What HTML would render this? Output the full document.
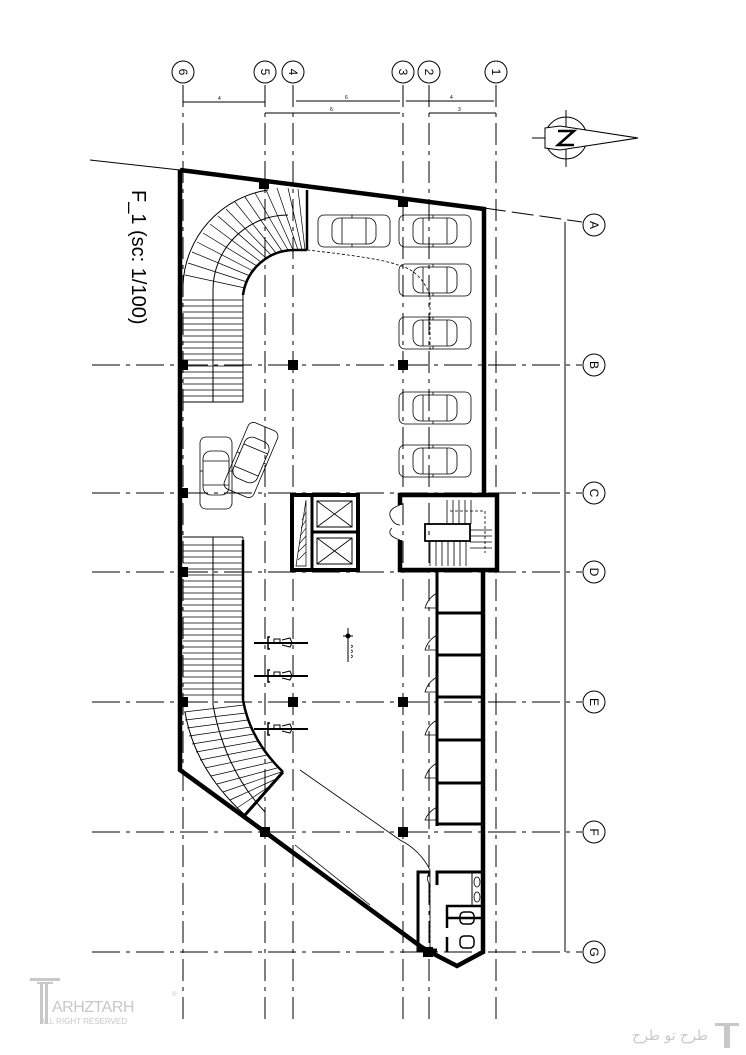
<!DOCTYPE html>
<html><head><meta charset="utf-8"><style>
html,body{margin:0;padding:0;background:#fff;}
svg{display:block;}
</style></head><body>
<svg width="746" height="1055" viewBox="0 0 746 1055" xmlns="http://www.w3.org/2000/svg" font-family="Liberation Sans, sans-serif">
<defs>
<g id="car" fill="none" stroke="#000" stroke-width="0.8">
<rect x="-36" y="-16" width="72" height="32" rx="6"/>
<rect x="-22" y="-13" width="44" height="26" rx="8"/>
<line x1="-12" y1="-13" x2="-12" y2="13"/>
<line x1="12" y1="-13" x2="12" y2="13"/>
<line x1="-2" y1="-16" x2="-2" y2="-13"/><line x1="-2" y1="16" x2="-2" y2="13"/>
</g>
<g id="bike" stroke="#000" fill="none">
<line x1="0" y1="0" x2="54" y2="0" stroke-width="2"/>
<path d="M16 -6 L14 -6 L14 6 L16 6" stroke-width="1.5"/>
<rect x="20" y="-4" width="6" height="4" stroke-width="1"/>
<path d="M28 -3 L36 -5 L38 0 L36 4 L28 2" stroke-width="1"/>
</g>
</defs>

<!-- grid lines vertical -->
<g stroke="#000" stroke-width="1" stroke-dasharray="22,6,4,6">
<line x1="183" y1="85" x2="183" y2="1025"/>
<line x1="265" y1="85" x2="265" y2="1025"/>
<line x1="293" y1="85" x2="293" y2="1025"/>
<line x1="403" y1="85" x2="403" y2="1025"/>
<line x1="429" y1="85" x2="429" y2="1025"/>
<line x1="496" y1="85" x2="496" y2="1025"/>
</g>
<!-- grid lines horizontal -->
<g stroke="#000" stroke-width="1" stroke-dasharray="28,6,4,6">
<line x1="92" y1="365" x2="582" y2="365"/>
<line x1="92" y1="493" x2="582" y2="493"/>
<line x1="92" y1="572" x2="582" y2="572"/>
<line x1="92" y1="702" x2="582" y2="702"/>
<line x1="92" y1="832" x2="582" y2="832"/>
<line x1="92" y1="952" x2="582" y2="952"/>
</g>
<line x1="90" y1="160" x2="180" y2="170" stroke="#000" stroke-width="1"/>
<line x1="484" y1="208" x2="582" y2="222" stroke="#000" stroke-width="1" stroke-dasharray="22,6"/>
<line x1="565" y1="222" x2="565" y2="952" stroke="#000" stroke-width="1"/>

<!-- grid bubbles -->
<g fill="#fff" stroke="#000" stroke-width="1">
<circle cx="183" cy="72" r="11"/><circle cx="265" cy="72" r="11"/><circle cx="293" cy="72" r="11"/>
<circle cx="403" cy="72" r="11"/><circle cx="429" cy="72" r="11"/><circle cx="496" cy="72" r="11"/>
<circle cx="594" cy="225" r="11"/><circle cx="594" cy="365" r="11"/><circle cx="594" cy="493" r="11"/>
<circle cx="594" cy="572" r="11"/><circle cx="594" cy="702" r="11"/><circle cx="594" cy="832" r="11"/>
<circle cx="594" cy="952" r="11"/>
</g>
<g font-size="12" text-anchor="middle" fill="#000">
<text transform="translate(183,72) rotate(90)" y="4">6</text>
<text transform="translate(265,72) rotate(90)" y="4">5</text>
<text transform="translate(293,72) rotate(90)" y="4">4</text>
<text transform="translate(403,72) rotate(90)" y="4">3</text>
<text transform="translate(429,72) rotate(90)" y="4">2</text>
<text transform="translate(496,72) rotate(90)" y="4">1</text>
<text transform="translate(594,225) rotate(90)" y="4">A</text>
<text transform="translate(594,365) rotate(90)" y="4">B</text>
<text transform="translate(594,493) rotate(90)" y="4">C</text>
<text transform="translate(594,572) rotate(90)" y="4">D</text>
<text transform="translate(594,702) rotate(90)" y="4">E</text>
<text transform="translate(594,832) rotate(90)" y="4">F</text>
<text transform="translate(594,952) rotate(90)" y="4">G</text>
</g>
<!-- dimension lines -->
<g stroke="#000" stroke-width="1">
<line x1="183" y1="102" x2="265" y2="102"/>
<line x1="296" y1="101" x2="400" y2="101"/>
<line x1="406" y1="101" x2="494" y2="101"/>
<line x1="265" y1="113" x2="400" y2="113"/>
<line x1="429" y1="113" x2="496" y2="113"/>
</g>
<g font-size="5" fill="#000"><text x="218" y="100">4</text><text x="345" y="99">6</text><text x="450" y="99">4</text><text x="330" y="111">6</text><text x="458" y="111">3</text></g>

<!-- north arrow -->
<g stroke="#000" stroke-width="1" fill="none">
<circle cx="566" cy="138" r="21"/>
<line x1="566" y1="110" x2="566" y2="167"/>
<line x1="532" y1="138" x2="545" y2="138"/>
<path d="M545 128 L560 126 L638 138 L560 150 L545 148 Z" fill="#fff"/>
<path d="M558 131 L574 131 L558 145 L574 145" stroke-width="2.5"/>
</g>

<!-- title -->
<text transform="translate(132,190) rotate(90)" font-size="20" fill="#000">F_1 (sc: 1/100)</text>

<!-- building outline -->
<g fill="none" stroke="#000" stroke-width="4.5" stroke-linejoin="miter">
<path d="M180 170 L484 209 L484 493"/>
<path d="M180 170 L180 770 L265 832 L420 946 L430 952 L457 966 L483 952 L483 572"/>
</g>
<!-- columns -->
<g fill="#000">
<rect x="259" y="180" width="10" height="9"/><rect x="398" y="198" width="10" height="9"/>
<rect x="178" y="360" width="10" height="10"/><rect x="288" y="360" width="10" height="10"/><rect x="398" y="360" width="10" height="10"/>
<rect x="178" y="488" width="10" height="10"/><rect x="178" y="567" width="10" height="10"/>
<rect x="178" y="697" width="10" height="10"/><rect x="288" y="697" width="10" height="10"/><rect x="398" y="697" width="10" height="10"/>
<rect x="398" y="827" width="10" height="10"/><rect x="260" y="827" width="10" height="10"/>
<rect x="423" y="947" width="10" height="10"/>
</g>

<!-- top ramp -->
<g fill="none" stroke="#000" stroke-width="1">
<path d="M183 285 A100 100 0 0 1 268 190"/>
<path d="M213 290 A75 75 0 0 1 288 215"/>
<path d="M243 295 A52 52 0 0 1 295 250"/>
<line x1="243" y1="295" x2="243" y2="402"/>
<line x1="213" y1="290" x2="213" y2="402"/>
<line x1="183" y1="402" x2="243" y2="402"/>
</g>
<line x1="307" y1="190" x2="307" y2="250" stroke="#000" stroke-width="2.5"/>
<path d="M243 295 A52 52 0 0 1 295 250 L307 250" fill="none" stroke="#000" stroke-width="2.5"/>
<g stroke="#000" stroke-width="0.7">
<line x1="183" y1="300" x2="243" y2="300"/><line x1="183" y1="306" x2="243" y2="306"/><line x1="183" y1="312" x2="243" y2="312"/><line x1="183" y1="318" x2="243" y2="318"/><line x1="183" y1="324" x2="243" y2="324"/><line x1="183" y1="330" x2="243" y2="330"/><line x1="183" y1="336" x2="243" y2="336"/><line x1="183" y1="342" x2="243" y2="342"/><line x1="183" y1="348" x2="243" y2="348"/><line x1="183" y1="354" x2="243" y2="354"/><line x1="183" y1="360" x2="243" y2="360"/><line x1="183" y1="366" x2="243" y2="366"/><line x1="183" y1="372" x2="243" y2="372"/><line x1="183" y1="378" x2="243" y2="378"/><line x1="183" y1="384" x2="243" y2="384"/><line x1="183" y1="390" x2="243" y2="390"/><line x1="183" y1="396" x2="243" y2="396"/>
<line x1="185" y1="275" x2="245" y2="288"/><line x1="188" y1="263" x2="247" y2="282"/><line x1="192" y1="252" x2="250" y2="276"/><line x1="197" y1="242" x2="253" y2="271"/><line x1="203" y1="233" x2="257" y2="266"/><line x1="210" y1="224" x2="261" y2="262"/><line x1="218" y1="216" x2="266" y2="258"/><line x1="226" y1="209" x2="271" y2="255"/><line x1="235" y1="202" x2="276" y2="253"/><line x1="245" y1="197" x2="282" y2="251"/><line x1="255" y1="193" x2="288" y2="250"/><line x1="266" y1="190" x2="293" y2="250"/><line x1="277" y1="188" x2="298" y2="250"/><line x1="288" y1="188" x2="302" y2="250"/><line x1="298" y1="189" x2="305" y2="250"/>
</g>
<path d="M307 250 Q380 258 398 265 Q420 270 430 295 L430 350" fill="none" stroke="#000" stroke-width="0.8" stroke-dasharray="3,2"/>

<!-- bottom ramp -->
<g fill="none" stroke="#000" stroke-width="1">
<line x1="183" y1="537" x2="243" y2="537"/>
<line x1="243" y1="537" x2="243" y2="700"/>
<line x1="213" y1="537" x2="213" y2="705"/>
<path d="M243 700 Q250 740 283 772"/>
<path d="M213 705 Q225 770 265 812"/>
<path d="M185 712 Q195 770 245 815"/>
</g>
<line x1="283" y1="772" x2="245" y2="815" stroke="#000" stroke-width="3"/>
<line x1="243" y1="540" x2="243" y2="700" stroke="#000" stroke-width="2.5"/>
<path d="M243 700 Q250 740 283 772" fill="none" stroke="#000" stroke-width="2.5"/>
<g stroke="#000" stroke-width="0.7">
<line x1="183" y1="545" x2="243" y2="545"/><line x1="183" y1="551" x2="243" y2="551"/><line x1="183" y1="557" x2="243" y2="557"/><line x1="183" y1="563" x2="243" y2="563"/><line x1="183" y1="569" x2="243" y2="569"/><line x1="183" y1="575" x2="243" y2="575"/><line x1="183" y1="581" x2="243" y2="581"/><line x1="183" y1="587" x2="243" y2="587"/><line x1="183" y1="593" x2="243" y2="593"/><line x1="183" y1="599" x2="243" y2="599"/><line x1="183" y1="605" x2="243" y2="605"/><line x1="183" y1="611" x2="243" y2="611"/><line x1="183" y1="617" x2="243" y2="617"/><line x1="183" y1="623" x2="243" y2="623"/><line x1="183" y1="629" x2="243" y2="629"/><line x1="183" y1="635" x2="243" y2="635"/><line x1="183" y1="641" x2="243" y2="641"/><line x1="183" y1="647" x2="243" y2="647"/><line x1="183" y1="653" x2="243" y2="653"/><line x1="183" y1="659" x2="243" y2="659"/><line x1="183" y1="665" x2="243" y2="665"/><line x1="183" y1="671" x2="243" y2="671"/><line x1="183" y1="677" x2="243" y2="677"/><line x1="183" y1="683" x2="243" y2="683"/><line x1="183" y1="689" x2="243" y2="689"/><line x1="183" y1="695" x2="243" y2="695"/>
<line x1="184" y1="712" x2="244" y2="705"/><line x1="185" y1="720" x2="246" y2="713"/><line x1="187" y1="728" x2="248" y2="720"/><line x1="189" y1="736" x2="251" y2="727"/><line x1="192" y1="744" x2="254" y2="734"/><line x1="196" y1="752" x2="258" y2="741"/><line x1="200" y1="760" x2="262" y2="748"/><line x1="205" y1="768" x2="267" y2="755"/><line x1="211" y1="776" x2="272" y2="762"/><line x1="217" y1="784" x2="277" y2="768"/><line x1="223" y1="792" x2="281" y2="772"/><line x1="230" y1="800" x2="276" y2="779"/><line x1="237" y1="808" x2="270" y2="786"/>
</g>
<path d="M268 832 L420 946 Q428 952 430 950 L430 870 Q420 850 400 840 L300 770" fill="none" stroke="#000" stroke-width="0.8"/>
<line x1="295" y1="845" x2="370" y2="905" stroke="#000" stroke-width="0.8"/>

<!-- cars -->
<use href="#car" transform="translate(354,231)"/>
<use href="#car" transform="translate(435,231)"/>
<use href="#car" transform="translate(435,280)"/>
<use href="#car" transform="translate(435,333)"/>
<use href="#car" transform="translate(435,408)"/>
<use href="#car" transform="translate(435,461)"/>
<use href="#car" transform="translate(216,473) rotate(90)"/>
<use href="#car" transform="translate(251,460) rotate(113)"/>

<!-- elevator block -->
<g fill="none" stroke="#000">
<rect x="292" y="495" width="66" height="75" stroke-width="4"/>
<line x1="312" y1="495" x2="312" y2="570" stroke-width="3"/>
<line x1="312" y1="532" x2="358" y2="532" stroke-width="3"/>
<rect x="317" y="501" width="35" height="26" stroke-width="1"/>
<rect x="317" y="538" width="35" height="26" stroke-width="1"/>
<path d="M317 501 L352 527 M352 501 L317 527 M317 538 L352 564 M352 538 L317 564" stroke-width="0.8"/>
<path d="M306 500 L296 566 L306 566 Z" stroke-width="0.7"/>
<path d="M298 560 L306 552 M298 552 L306 544 M299 544 L306 536 M300 536 L306 528 M301 528 L306 520 M302 520 L306 512" stroke-width="0.6"/>
</g>
<!-- stair core -->
<g fill="none" stroke="#000">
<path d="M400 505 L400 495 L497 495 L497 570 L400 570 L400 540" stroke-width="4.5"/>
<rect x="425" y="524" width="45" height="17" stroke-width="1.8"/>
<path d="M400 505 Q385 510 392 520 Q395 525 400 525 M400 540 Q385 535 392 528" stroke-width="0.8"/>
<g stroke-width="0.8">
<line x1="447" y1="500" x2="447" y2="524"/><line x1="453" y1="500" x2="453" y2="524"/><line x1="459" y1="500" x2="459" y2="524"/><line x1="465" y1="500" x2="465" y2="524"/><line x1="471" y1="500" x2="471" y2="524"/>
<line x1="430" y1="541" x2="430" y2="566"/><line x1="436" y1="541" x2="436" y2="566"/><line x1="442" y1="541" x2="442" y2="566"/><line x1="448" y1="541" x2="448" y2="566"/><line x1="454" y1="541" x2="454" y2="566"/><line x1="460" y1="541" x2="460" y2="566"/><line x1="466" y1="541" x2="466" y2="566"/>
<line x1="470" y1="530" x2="492" y2="530"/><line x1="470" y1="536" x2="492" y2="536"/><line x1="470" y1="542" x2="492" y2="542"/><line x1="470" y1="548" x2="492" y2="548"/>
<path d="M450 511 L485 511 L485 553" stroke-dasharray="3,2"/>
</g>
</g>

<!-- storage rooms -->
<g fill="none" stroke="#000" stroke-width="3">
<line x1="437" y1="572" x2="437" y2="826"/>
<line x1="437" y1="613" x2="483" y2="613"/>
<line x1="437" y1="655" x2="483" y2="655"/>
<line x1="437" y1="697" x2="483" y2="697"/>
<line x1="437" y1="740" x2="483" y2="740"/>
<line x1="437" y1="783" x2="483" y2="783"/>
<line x1="437" y1="824" x2="483" y2="824"/>
</g>
<g fill="none" stroke="#000" stroke-width="0.8">
<path d="M437 593 Q428 598 425 608 L437 608"/>
<path d="M437 635 Q428 640 425 650 L437 650"/>
<path d="M437 677 Q428 682 425 692 L437 692"/>
<path d="M437 720 Q428 725 425 735 L437 735"/>
<path d="M437 763 Q428 768 425 778 L437 778"/>
<path d="M437 807 Q428 812 425 820 L437 820"/>
</g>

<!-- toilets -->
<g fill="none" stroke="#000">
<path d="M437 950 L418 950 L418 872 L430 872" stroke-width="3"/>
<path d="M437 885 L437 872 L482 872" stroke-width="3"/>
<path d="M447 952 L447 937 M447 928 L447 906 L482 906 M447 918 L482 918" stroke-width="2.5"/>
<line x1="472" y1="872" x2="472" y2="906" stroke-width="1"/>
<ellipse cx="477" cy="882" rx="3" ry="5" stroke-width="0.8"/>
<ellipse cx="477" cy="897" rx="3" ry="5" stroke-width="0.8"/>
<rect x="460" y="912" width="14" height="12" rx="4" stroke-width="1.5"/>
<rect x="460" y="936" width="14" height="12" rx="4" stroke-width="1.5"/>
<path d="M430 885 Q425 878 430 872" stroke-width="0.8"/>
<line x1="430" y1="885" x2="430" y2="950" stroke-width="0.8" stroke-dasharray="3,2"/>
</g>

<!-- bikes -->
<use href="#bike" transform="translate(254,643)"/>
<use href="#bike" transform="translate(254,676)"/>
<use href="#bike" transform="translate(254,729)"/>
<!-- level marker -->
<g stroke="#000" fill="none" stroke-width="1">
<line x1="348" y1="628" x2="348" y2="662"/><line x1="343" y1="636" x2="353" y2="636"/>
<circle cx="348" cy="636" r="2" fill="#000"/>
<path d="M351 645 q3 1 0 3 M351 650 q3 1 0 3 M351 655 q3 1 0 3" stroke-width="0.7"/>
</g>

<!-- watermarks -->
<g fill="#c8c8c8" stroke="#bbb">
<rect x="30" y="978" width="30" height="3" stroke="none"/>
<rect x="37" y="982" width="16" height="2" stroke="none"/>
<rect x="40" y="984" width="3" height="40" stroke="none"/><rect x="45" y="984" width="3" height="40" stroke="none"/>
</g>
<text x="52" y="1012" font-size="16" fill="#c8c8c8" letter-spacing="-0.5">ARHZTARH</text>
<text x="40" y="1024" font-size="8" fill="#c8c8c8">ALL RIGHT RESERVED</text>
<text x="172" y="996" font-size="6" fill="#c8c8c8">®</text>
<text x="708" y="1040" font-size="14" fill="#c8c8c8" text-anchor="end" font-family="DejaVu Sans, sans-serif">طرح تو طرح</text>
<rect x="715" y="1023" width="24" height="3" fill="#c8c8c8"/>
<rect x="724" y="1026" width="6" height="22" fill="#c8c8c8"/>
</svg>
</body></html>
